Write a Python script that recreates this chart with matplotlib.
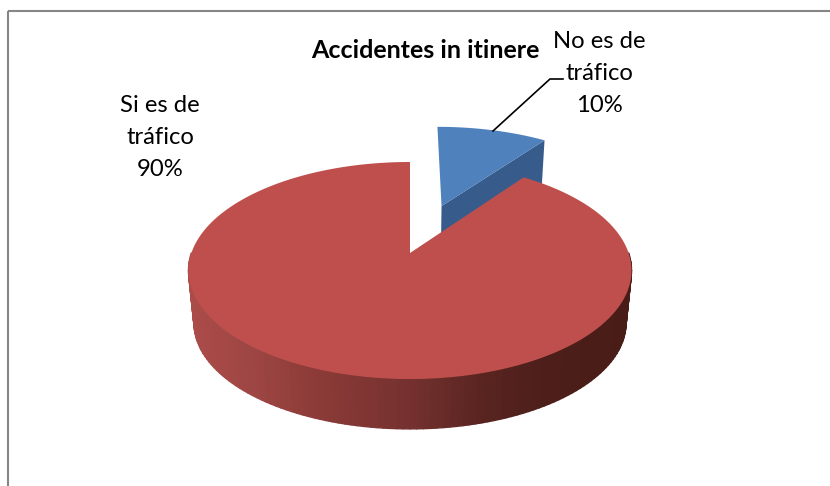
import numpy as np
import matplotlib
matplotlib.use('Agg')
import matplotlib.pyplot as plt
from matplotlib.collections import PolyCollection
from matplotlib.colors import LinearSegmentedColormap

title = 'Accidentes in itinere'
labels = ['No es de\ntráfico', 'Si es de\ntráfico']
values = [10, 90]

RED = '#bf4f4c'
BLUE = '#4f81bd'
BLUE_DARK = '#375c8c'
FRAME = '#868686'

# Perspective of the pie plane, in pixels
CX, CY = 410, 253
A, B, K = 218.6, 105.7, 0.1613
BOTTOM_SCALE, BOTTOM_CY = 0.975, 306
EXPLODE = 0.503

wall_cmap = LinearSegmentedColormap.from_list('wall', [
    (0.00, '#ab4c49'), (0.15, '#9c4542'), (0.30, '#8a3a37'), (0.48, '#773230'),
    (0.66, '#5a2521'), (0.78, '#4e1f1b'), (1.00, '#491c18'),
])


def project(u, v, bottom=False):
    d = 1 + K * v
    if bottom:
        return CX + BOTTOM_SCALE * A * u / d, BOTTOM_CY - BOTTOM_SCALE * B * v / d
    return CX + A * u / d, CY - B * v / d


def slice_outline(start, end, du=0, dv=0, bottom=False):
    # angles in degrees, clockwise from 12 o'clock
    t = np.radians(np.linspace(start, end, 240))
    u = np.r_[0, np.sin(t), 0] + du
    v = np.r_[0, np.cos(t), 0] + dv
    return np.column_stack(project(u, v, bottom))


fig = plt.figure(figsize=(8.3, 4.86), dpi=100)
ax = fig.add_axes([0, 0, 1, 1])
ax.set_xlim(0, 830)
ax.set_ylim(486, 0)
ax.axis('off')

angles = np.cumsum([0] + values) * 360 / sum(values)

# exploded blue slice
mid = np.radians((angles[0] + angles[1]) / 2)
du, dv = EXPLODE * np.sin(mid), EXPLODE * np.cos(mid)
t0 = np.radians(angles[1])
apex_t = project(du, dv)
apex_b = project(du, dv, True)
corner_t = project(du + np.sin(t0), dv + np.cos(t0))
corner_b = project(du + np.sin(t0), dv + np.cos(t0), True)
ax.fill([apex_t[0], corner_t[0], corner_b[0], apex_b[0]],
        [apex_t[1], corner_t[1], corner_b[1], apex_b[1]],
        color=BLUE_DARK, lw=0, zorder=2)
ax.fill(*slice_outline(angles[0], angles[1], du, dv).T, color=BLUE, lw=0, zorder=3)

# red slice wall, front half only
t = np.radians(np.linspace(90, 270, 121))
ut, vt = project(np.sin(t), np.cos(t))
ub, vb = project(np.sin(t), np.cos(t), True)
quads = []
for i in range(len(t) - 1):
    quads.append([(ut[i], vt[i]), (ut[i + 1], vt[i + 1]), (ub[i + 1], vb[i + 1]), (ub[i], vb[i])])
mids = (ut[:-1] + ut[1:]) / 2
shade = (mids - mids.min()) / (mids.max() - mids.min())
walls = PolyCollection(quads, array=shade, cmap=wall_cmap, edgecolors='face', linewidths=1.0, zorder=4)
ax.add_collection(walls)
ax.fill(*slice_outline(angles[1], angles[2]).T, color=RED, lw=0, zorder=5)

# frame, only top and left are in the crop
ax.plot([8, 830], [11.5, 11.5], color=FRAME, lw=1.5, zorder=1, solid_capstyle='butt')
ax.plot([8, 8], [11, 486], color=FRAME, lw=1.5, zorder=1, solid_capstyle='butt')

# leader line
ax.plot([493, 550, 563], [131, 79, 79], color='black', lw=1.2, zorder=6, solid_joinstyle='miter')

font = ['Lato', 'DejaVu Sans']
ax.text(425, 58, title, ha='center', va='baseline', family=font, fontsize=18.0,
        fontweight='bold', color='black', zorder=7)
ax.text(599, 112, f'{labels[0]}\n{values[0]}%', ha='center', va='baseline', family=font,
        fontsize=17.2, linespacing=1.65, color='black', zorder=7, multialignment='center')
ax.text(160, 176, f'{labels[1]}\n{values[1]}%', ha='center', va='baseline', family=font,
        fontsize=17.2, linespacing=1.65, color='black', zorder=7, multialignment='center')

fig.savefig('out.png', dpi=100, facecolor='white')
